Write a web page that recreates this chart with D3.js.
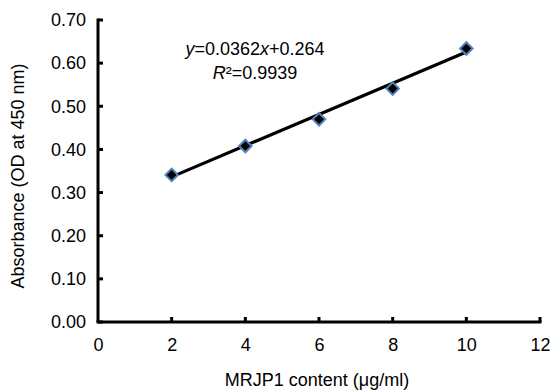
<!DOCTYPE html>
<html>
<head>
<meta charset="utf-8">
<script src="https://cdn.jsdelivr.net/npm/d3@7"></script>
<style>
  html, body { margin: 0; padding: 0; background: #fff; }
  svg { display: block; font-family: "Liberation Sans", Arial, sans-serif; }
</style>
</head>
<body>
<svg id="chart" width="554" height="392"></svg>
<script>
// ---- data ----
const concentrations = [2, 4, 6, 8, 10];
const absorbances = [0.341, 0.408, 0.470, 0.541, 0.634];
const xTicks = [0, 2, 4, 6, 8, 10, 12];
const yTicks = [0.00, 0.10, 0.20, 0.30, 0.40, 0.50, 0.60, 0.70];
const fitSlope = [0.0362];
const fitIntercept = [0.264];
const fitRSquared = ["0.9939"];
const xTitle = "MRJP1 content (μg/ml)";
const yTitle = "Absorbance (OD at 450 nm)";

// ---- layout ----
const svg = d3.select("#chart");
const pL = 98, pR = 540, pT = 20, pB = 322;
const x = d3.scaleLinear().domain([0, 12]).range([pL, pR]);
const y = d3.scaleLinear().domain([0, 0.7]).range([pB, pT]);
const fs = 18;

// y axis
const yAxis = svg.append("g").attr("transform", `translate(${pL},0)`)
  .call(d3.axisLeft(y).tickValues(yTicks).tickFormat(d3.format(".2f")).tickSize(0).tickPadding(12));
yAxis.select(".domain").remove();
yAxis.selectAll("text").attr("font-size", fs).attr("fill", "#000")
  .attr("font-family", "Liberation Sans, Arial, sans-serif");
svg.append("line").attr("x1", pL).attr("x2", pL).attr("y1", pT - 1.5).attr("y2", pB)
  .attr("stroke", "#000").attr("stroke-width", 3);
svg.selectAll(".ytick").data(yTicks).enter().append("line")
  .attr("x1", pL).attr("x2", pL + 5)
  .attr("y1", d => y(d)).attr("y2", d => y(d))
  .attr("stroke", "#000").attr("stroke-width", 3);

// x axis
const xAxis = svg.append("g").attr("transform", `translate(0,${pB})`)
  .call(d3.axisBottom(x).tickValues(xTicks).tickFormat(d3.format("d")).tickSize(0).tickPadding(16));
xAxis.select(".domain").remove();
xAxis.selectAll("text").attr("font-size", fs).attr("fill", "#000")
  .attr("font-family", "Liberation Sans, Arial, sans-serif");
svg.append("line").attr("x1", pL - 1.5).attr("x2", pR + 1.5).attr("y1", pB).attr("y2", pB)
  .attr("stroke", "#000").attr("stroke-width", 3);
svg.selectAll(".xtick").data(xTicks.slice(1)).enter().append("line")
  .attr("x1", d => x(d)).attr("x2", d => x(d))
  .attr("y1", pB).attr("y2", pB - 5)
  .attr("stroke", "#000").attr("stroke-width", 3);

// titles
svg.append("text").attr("x", (pL + pR) / 2 - 2).attr("y", 386)
  .attr("text-anchor", "middle").attr("font-size", fs).text(xTitle);
svg.append("text").attr("transform", `translate(24,${(pT + pB) / 2 + 5}) rotate(-90)`)
  .attr("text-anchor", "middle").attr("font-size", fs).text(yTitle);

// trend line
const xMin = d3.min(concentrations), xMax = d3.max(concentrations);
const fit = v => fitSlope[0] * v + fitIntercept[0];
svg.append("line")
  .attr("x1", x(xMin)).attr("y1", y(fit(xMin)))
  .attr("x2", x(xMax)).attr("y2", y(fit(xMax)))
  .attr("stroke", "#000").attr("stroke-width", 3.2);

// markers (diamonds)
const diamond = d3.symbol().type(d3.symbolSquare).size(78);
svg.selectAll(".pt").data(concentrations).enter().append("path")
  .attr("d", diamond)
  .attr("transform", (d, i) => `translate(${x(d)},${y(absorbances[i])}) rotate(45)`)
  .attr("fill", "#000").attr("stroke", "#4f81bd").attr("stroke-width", 2);

// equation
const eq = svg.append("text").attr("x", 255).attr("y", 55).attr("text-anchor", "middle").attr("font-size", fs);
eq.append("tspan").attr("font-style", "italic").text("y");
eq.append("tspan").text("=" + fitSlope[0]);
eq.append("tspan").attr("font-style", "italic").text("x");
eq.append("tspan").text("+" + fitIntercept[0]);
const r2 = svg.append("text").attr("x", 255).attr("y", 79).attr("text-anchor", "middle").attr("font-size", fs);
r2.append("tspan").attr("font-style", "italic").text("R");
r2.append("tspan").text("²=" + fitRSquared[0]);
</script>
</body>
</html>
